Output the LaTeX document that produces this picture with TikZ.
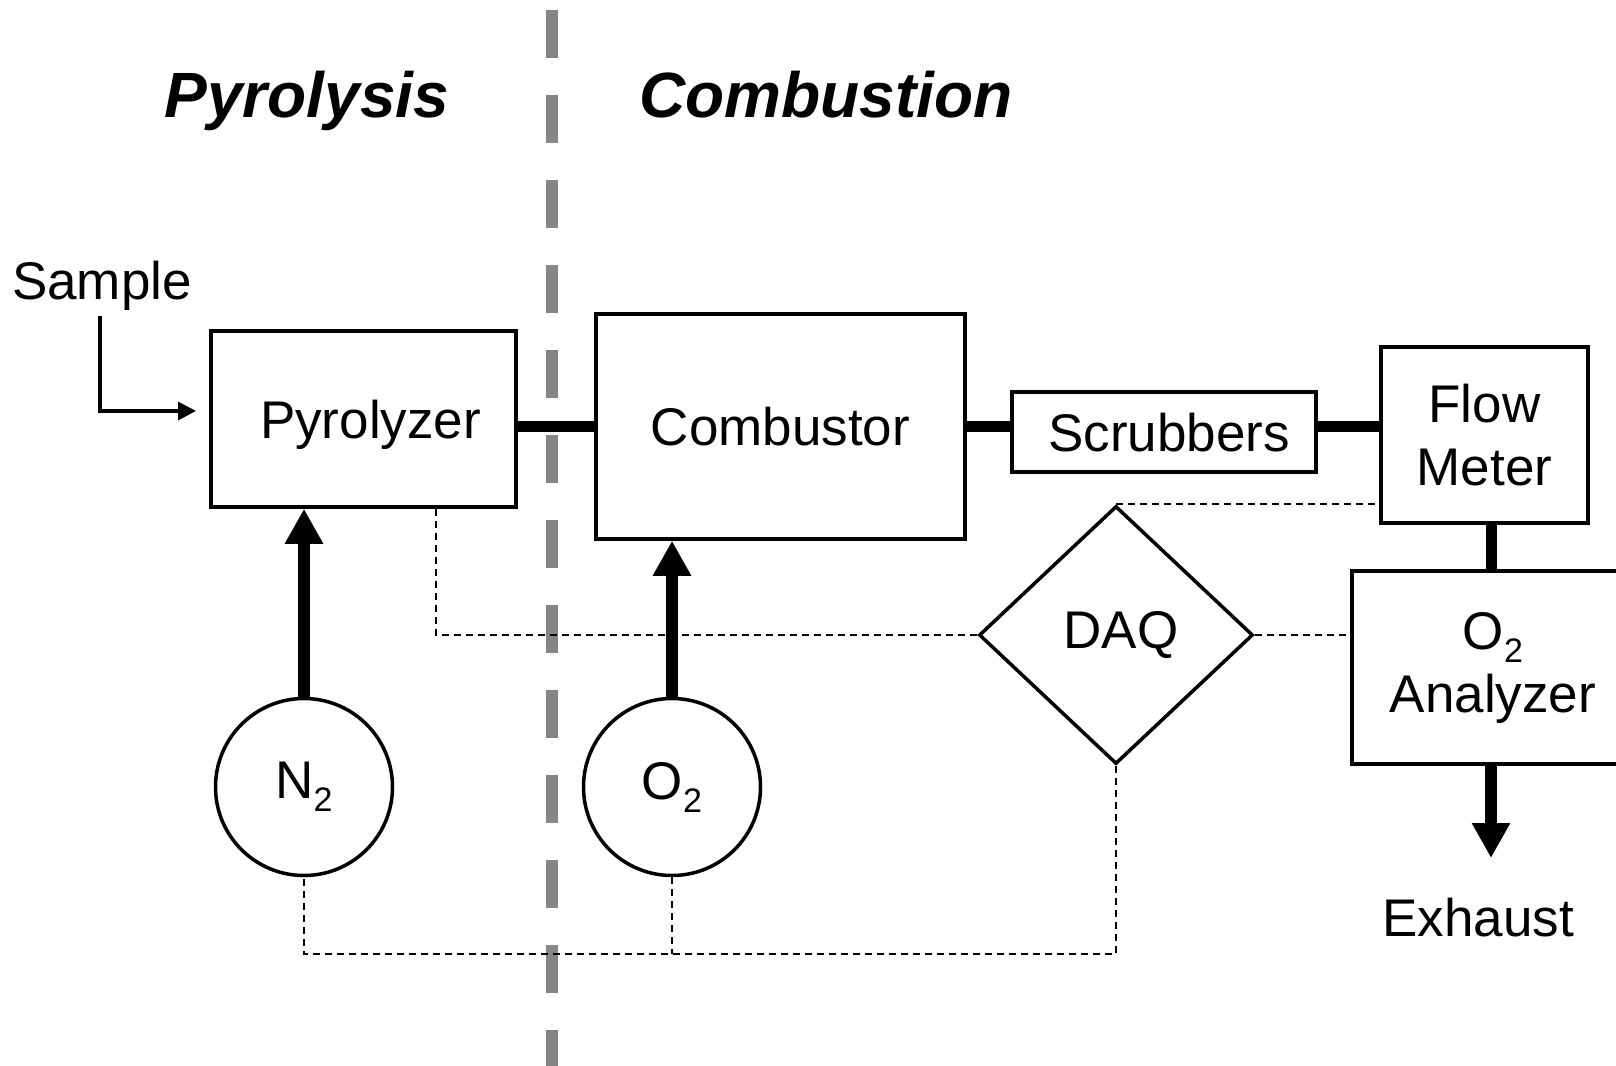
\documentclass[tikz,border=0pt]{standalone}
\usepackage{fontspec}
\setmainfont{Liberation Sans}
\usetikzlibrary{arrows.meta,shapes.geometric}
\newcommand\subtwo{\raisebox{-13pt}{\fontsize{34}{34}\selectfont 2}}
\begin{document}
\begin{tikzpicture}[x=1pt,y=-1pt,
  lbl/.style={font=\fontsize{53}{63}\selectfont},
  ttl/.style={font=\fontsize{64}{70}\selectfont\bfseries\itshape, anchor=base, inner sep=0pt},
  unit/.style={draw, line width=3.5pt, inner sep=0pt, lbl, align=center},
  oneline/.style={text height=38pt, text depth=0pt},
  gas/.style={draw, circle, line width=3.5pt, minimum size=177pt, inner sep=0pt, lbl},
  pipe/.style={line width=11pt},
  fat/.style={line width=12pt, -{Triangle[length=35pt,width=36pt]}},
  sig/.style={line width=1.8pt, dash pattern=on 7pt off 5pt},
  divider/.style={line width=12.7pt, black!48, dash pattern=on 48pt off 37pt},
  feed/.style={line width=3.5pt, -{Triangle[length=18pt,width=18pt]}}
]
\useasboundingbox (0,0) rectangle (1616,1065);
\clip (0,0) rectangle (1616,1065);
\draw[divider] (552,10) -- (552,1075);

\node[unit,oneline,minimum width=305pt,minimum height=176pt] (pyro) at (363.5,419) {\hspace*{14pt}Pyrolyzer};
\node[unit,oneline,minimum width=369pt,minimum height=225pt] (comb) at (780.5,426.5) {Combustor};
\node[unit,oneline,minimum width=304pt,minimum height=80pt] (scrub) at (1164,432) {\hspace*{10pt}Scrubbers};
\node[unit,minimum width=207pt,minimum height=176pt] (flow) at (1484.5,435) {Flow\\Meter};
\node[unit,minimum width=282pt,minimum height=193pt] (o2a) at (1493,667.5) {O\subtwo\\Analyzer};
\node[draw,diamond,line width=3.5pt,minimum width=274pt,minimum height=258pt,inner sep=0pt,lbl,text height=38pt,text depth=12pt] (daq) at (1116,635) {\hspace*{10pt}DAQ};
\node[gas] (n2) at (304,787) {N\subtwo};
\node[gas] (o2) at (672,787) {O\subtwo};
\node[lbl,oneline,inner sep=0pt] (sample) at (102,280) {Sample};
\node[lbl,oneline,inner sep=0pt] (exhaust) at (1478,917) {Exhaust};
\node[ttl] (pyrttl) at (307,117) {Pyrolysis};
\node[ttl] (combttl) at (826,117) {Combustion};

\coordinate (ln) at (0,426);
\coordinate (xc) at (1491,0);
\coordinate (px) at (436,0);
\coordinate (bot) at (0,954);
\coordinate (s0) at (100,316);
\coordinate (s1) at (196,411);
\coordinate (ex) at (1491,858);

\draw[pipe] (pyro.east |- ln) -- (comb.west |- ln);
\draw[pipe] (comb.east |- ln) -- (scrub.west |- ln);
\draw[pipe] (scrub.east |- ln) -- (flow.west |- ln);
\draw[pipe] (flow.south -| xc) -- (o2a.north -| xc);
\draw[fat] (o2a.south -| xc) -- (ex);
\draw[fat] (n2.north) -- (n2.north |- pyro.south);
\draw[fat] (o2.north) -- (o2.north |- comb.south);
\draw[feed] (s0) |- (s1);

\draw[sig] (pyro.south -| px) |- (daq.west);
\draw[sig] (daq.east) -- (daq.east -| o2a.west);
\draw[sig] (daq.north) -- (daq.north -| flow.west);
\draw[sig] (daq.south) |- (bot -| n2.south) -- (n2.south);
\draw[sig] (o2.south) -- (o2.south |- bot);
\end{tikzpicture}
\end{document}
